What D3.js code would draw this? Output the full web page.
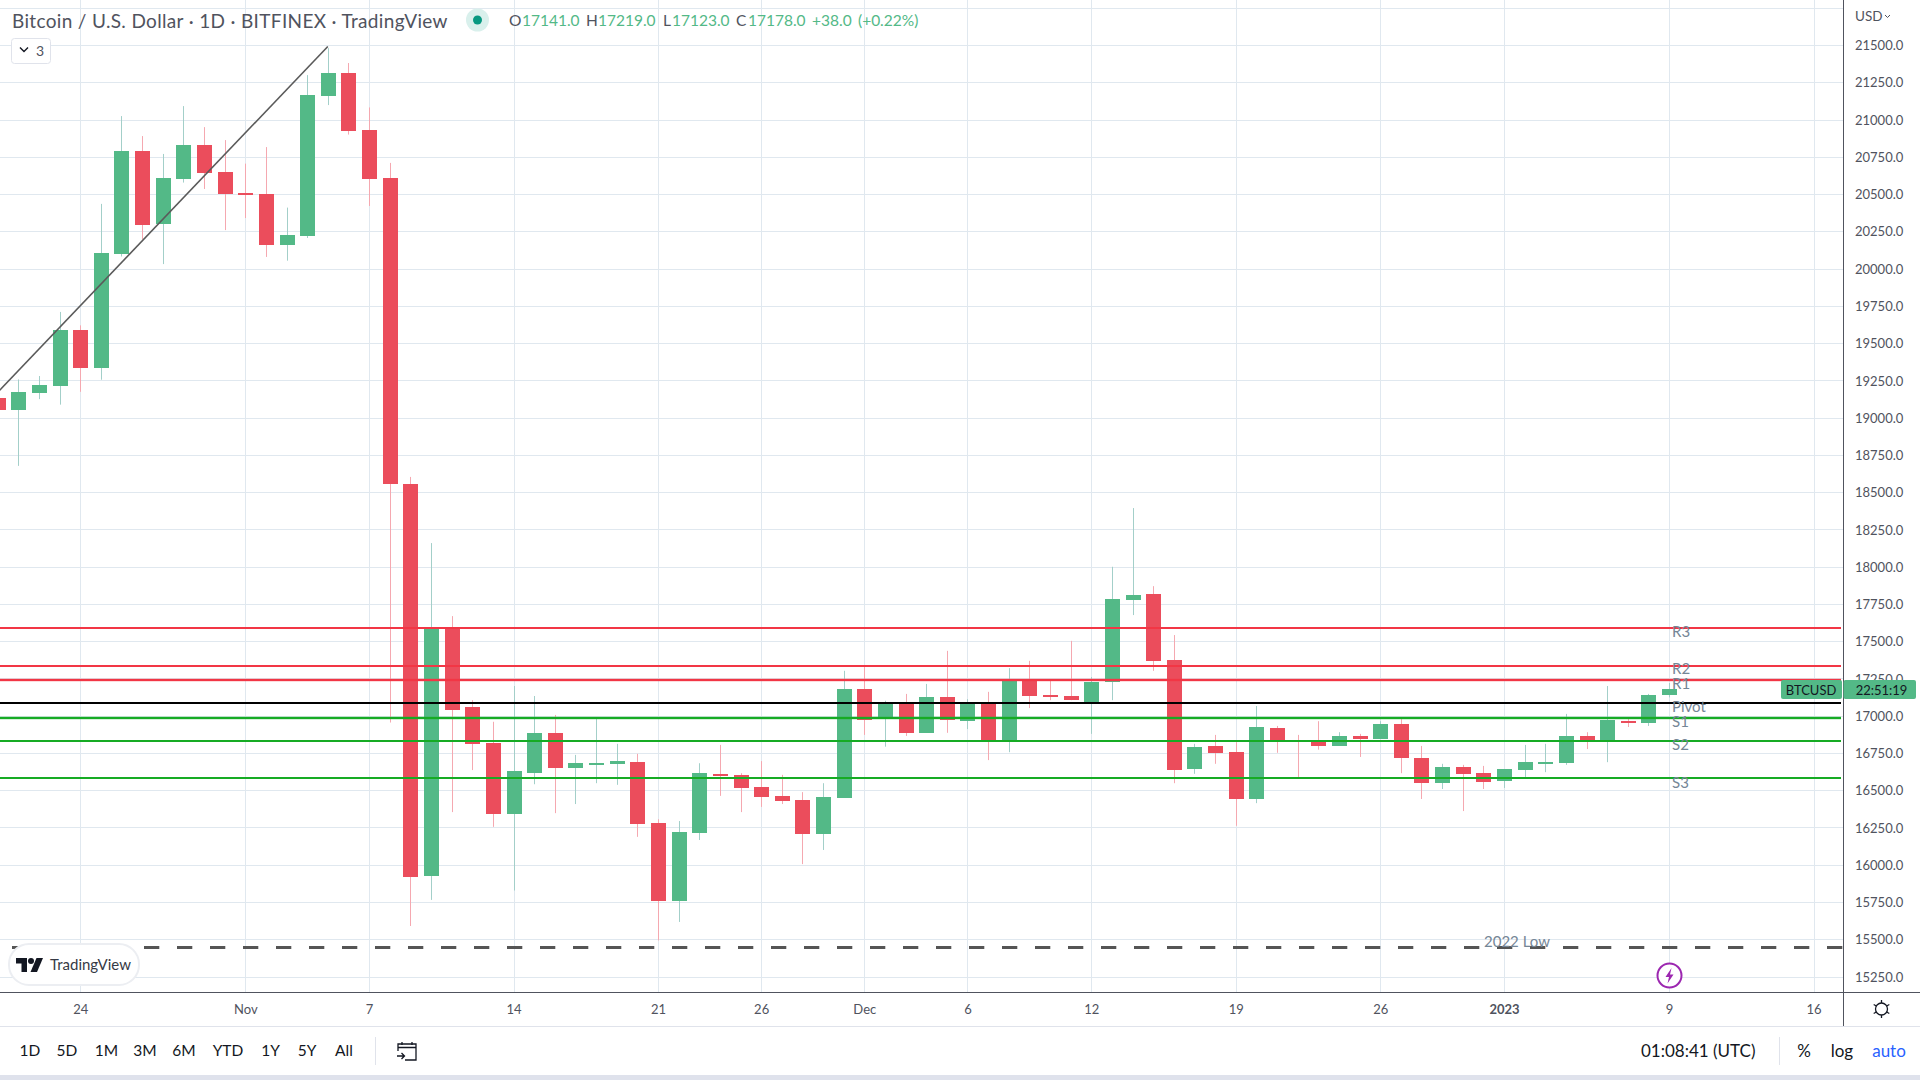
<!DOCTYPE html>
<html>
<head>
<meta charset="utf-8">
<script src="https://cdn.jsdelivr.net/npm/d3@7"></script>
<style>
  html, body { margin: 0; padding: 0; background: #fff; }
  svg { display: block; }
  text { font-family: Lato, "Open Sans", sans-serif; }
</style>
</head>
<body>
<svg id="chart" width="1920" height="1080"></svg>
<script>
// daily candles, Oct 20 2022 .. Jan 9 2023
const firstDay = "2022-10-20";
const opens = [
  19131,19050,19166,19212,19588,19332,20097,20790,20300,20601,20829,20649,
  20508,20501,20159,20219,21157,21312,20931,20607,18556,15924,17587,17058,16818,16340,16614,16885,16649,16677,
  16677,16688,16279,15757,16212,16610,16603,16522,16462,16434,16205,16448,
  17178,16984,17079,16885,17125,16963,17079,16829,17236,17139,17132,17093,17227,17777,17816,17375,16642,16797,
  16755,16441,16917,16836,16822,16797,16864,16843,16945,16716,16547,16656,16614,
  16561,16635,16681,16681,16864,16836,16963,16952,17141
];
const highs = [
  19170,19256,19279,19709,19619,20434,21023,20889,20769,21090,20949,20862,
  20704,20815,20409,21298,21479,21379,21081,20709,18602,18158,17668,17104,16959,17199,17132,17005,16737,16982,
  16811,16744,16305,16293,16681,16804,16614,16695,16603,16487,16547,17301,
  17333,17100,17146,17213,17435,17111,17160,17319,17368,17236,17502,17259,17999,18393,17869,17541,16811,16871,
  16822,17065,16931,16871,16963,16889,16878,16963,16977,16797,16677,16670,16663,
  16642,16804,16811,17012,16889,17199,16982,17146,17219
];
const lows = [
  19030,18676,19124,19087,19173,19254,20081,20196,20030,20577,20534,20258,
  20339,20078,20053,20205,21097,20899,20420,16954,15589,15764,16353,16635,16254,15827,16540,16346,16407,16547,
  16536,16187,15492,15616,16166,16462,16353,16388,16407,16004,16099,16448,
  16871,16792,16864,16885,16885,16910,16702,16755,17051,17104,17104,16878,17104,17675,17301,16547,16610,16677,
  16261,16413,16751,16589,16772,16797,16723,16843,16614,16441,16508,16360,16508,
  16515,16589,16621,16670,16776,16688,16924,16931,17123
];
const closes = [
  19050,19173,19219,19588,19332,20104,20790,20293,20607,20829,20642,20501,
  20494,20159,20226,21164,21312,20924,20601,18556,15919,17587,17037,16811,16340,16628,16885,16649,16681,16681,
  16695,16273,15757,16219,16614,16603,16515,16455,16427,16205,16455,17178,
  16970,17079,16885,17125,16970,17079,16836,17236,17132,17125,17104,17227,17784,17809,17368,16635,16790,16751,
  16441,16924,16836,16825,16797,16864,16843,16945,16716,16547,16656,16610,16554,
  16642,16688,16688,16864,16836,16970,16952,17139,17178
];

const pivotNames = ["R3", "R2", "R1", "Pivot", "S1", "S2", "S3"];
const pivotValues = [17589, 17333, 17241, 17086, 16986, 16829, 16582];
const pivotLabelValues = [17562, 17312, 17212, 17058, 16958, 16806, 16552];

const lowLevel = 15445;
const trendFrom = ["2022-10-20", 19170];
const trendTo = ["2022-11-05", 21490];

const priceTicks = d3.range(15250, 21751, 250);
const dateTicks = ["2022-10-24","2022-11-01","2022-11-07","2022-11-14","2022-11-21","2022-11-26","2022-12-01",
  "2022-12-06","2022-12-12","2022-12-19","2022-12-26","2023-01-01","2023-01-09","2023-01-16"];
const dateLabels = ["24","Nov","7","14","21","26","Dec","6","12","19","26","2023","9","16"];
const ranges = ["1D","5D","1M","3M","6M","YTD","1Y","5Y","All"];

const UP = "#53b987", DOWN = "#eb4d5c";
const UP_WICK = "#a3cfc9", DOWN_WICK = "#f5a8b0";
const GRID = "#e0e8ef", TEXT = "#50535e", LABEL = "#758696";
const parseDay = d3.utcParse("%Y-%m-%d");

const plotRight = 1843, plotBottom = 992, axisBottom = 1026;
const svg = d3.select("#chart");

const x = d3.scaleUtc().domain([parseDay("2022-10-24"), parseDay("2023-01-16")]).range([80.2, 1813.5]);
const y = d3.scaleLinear().domain([21500, 15250]).range([45, 976.5]);

const days = d3.utcDay.range(parseDay(firstDay), d3.utcDay.offset(parseDay(firstDay), opens.length));
const candles = days.map((d, i) => ({ date: d, o: opens[i], h: highs[i], l: lows[i], c: closes[i] }));

svg.append("clipPath").attr("id", "plot").append("rect")
  .attr("width", plotRight).attr("height", plotBottom);
const plot = svg.append("g").attr("clip-path", "url(#plot)");

/*** GRID ***/
plot.append("g").selectAll("line").data(priceTicks).join("line")
  .attr("x1", 0).attr("x2", plotRight)
  .attr("y1", d => Math.round(y(d)) + .5).attr("y2", d => Math.round(y(d)) + .5)
  .attr("stroke", GRID);
plot.append("g").selectAll("line").data(dateTicks).join("line")
  .attr("x1", d => Math.round(x(parseDay(d))) + .5).attr("x2", d => Math.round(x(parseDay(d))) + .5)
  .attr("y1", 0).attr("y2", plotBottom)
  .attr("stroke", GRID);

/*** CANDLES ***/
const bars = plot.append("g").selectAll("g").data(candles).join("g");
bars.append("line")
  .attr("x1", d => Math.round(x(d.date)) + .5).attr("x2", d => Math.round(x(d.date)) + .5)
  .attr("y1", d => y(d.h)).attr("y2", d => y(d.l))
  .attr("stroke", d => d.c >= d.o ? UP_WICK : DOWN_WICK);
bars.append("rect")
  .attr("x", d => Math.round(x(d.date)) - 7)
  .attr("width", 15)
  .attr("y", d => y(Math.max(d.o, d.c)))
  .attr("height", d => Math.max(2, Math.abs(y(d.o) - y(d.c))))
  .attr("fill", d => d.c >= d.o ? UP : DOWN)
  .attr("shape-rendering", "crispEdges");

/*** TREND LINE, PIVOTS, 2022 LOW ***/
plot.append("line")
  .attr("x1", x(parseDay(trendFrom[0]))).attr("y1", y(trendFrom[1]))
  .attr("x2", x(parseDay(trendTo[0]))).attr("y2", y(trendTo[1]))
  .attr("stroke", "#5a5a5a").attr("stroke-width", 1.6);

const pivotColor = n => n === "Pivot" ? "#000" : n[0] === "R" ? "#f23645" : "#16ab24";
// R1 and S1 carry a faint halo in the reference
plot.append("g").selectAll("line").data(["R1", "S1"]).join("line")
  .attr("x1", 0).attr("x2", plotRight - 2)
  .attr("y1", d => Math.round(y(pivotValues[pivotNames.indexOf(d)])))
  .attr("y2", d => Math.round(y(pivotValues[pivotNames.indexOf(d)])))
  .attr("stroke", pivotColor).attr("stroke-width", 4).attr("stroke-opacity", .18);
plot.append("g").selectAll("line.pivot").data(pivotNames).join("line")
  .attr("x1", 0).attr("x2", plotRight - 2)
  .attr("y1", (d, i) => Math.round(y(pivotValues[i])))
  .attr("y2", (d, i) => Math.round(y(pivotValues[i])))
  .attr("stroke", pivotColor).attr("stroke-width", 2);

plot.append("line")
  .attr("x1", 12).attr("x2", plotRight)
  .attr("y1", Math.round(y(lowLevel)) + .5).attr("y2", Math.round(y(lowLevel)) + .5)
  .attr("stroke", "#555").attr("stroke-width", 3).attr("stroke-dasharray", "15.3 17.7");

svg.append("g").selectAll("text").data(pivotNames).join("text")
  .attr("x", 1672).attr("y", (d, i) => y(pivotLabelValues[i]))
  .attr("dy", ".35em").attr("font-size", 15).attr("fill", LABEL)
  .text(d => d);
svg.append("text").attr("x", 1517).attr("y", 942).attr("dy", ".35em")
  .attr("text-anchor", "middle").attr("font-size", 15).attr("fill", LABEL).text("2022 Low");

/*** AXES ***/
const yAxis = svg.append("g").attr("transform", `translate(${plotRight},.5)`)
  .call(d3.axisRight(y).tickValues(priceTicks.slice(0, -1)).tickSize(0).tickPadding(12).tickFormat(d3.format(".1f")));
yAxis.select(".domain").remove();
yAxis.selectAll("text").attr("font-size", 13).attr("fill", TEXT).style("font-family", "Lato");

const xAxis = svg.append("g").attr("transform", `translate(0,${plotBottom})`)
  .call(d3.axisBottom(x).tickValues(dateTicks.map(parseDay)).tickSize(0).tickPadding(13)
    .tickFormat((d, i) => dateLabels[i]));
xAxis.select(".domain").remove();
xAxis.selectAll("text").attr("font-size", 13).attr("fill", TEXT).style("font-family", "Lato")
  .attr("font-weight", (d, i) => dateLabels[i] === "2023" ? 700 : 400);

svg.append("line").attr("x1", 0).attr("x2", 1920).attr("y1", plotBottom + .5).attr("y2", plotBottom + .5)
  .attr("stroke", "#50535e");
svg.append("line").attr("x1", plotRight + .5).attr("x2", plotRight + .5).attr("y1", 0).attr("y2", axisBottom)
  .attr("stroke", "#50535e");
svg.append("line").attr("x1", 0).attr("x2", 1920).attr("y1", axisBottom + .5).attr("y2", axisBottom + .5)
  .attr("stroke", "#e0e3eb");
svg.append("rect").attr("y", 1075).attr("width", 1920).attr("height", 5).attr("fill", "#dfe2ec");

/*** HEADER ***/
svg.append("text").attr("x", 12).attr("y", 21).attr("dy", ".35em").attr("font-size", 19)
  .attr("letter-spacing", .34).attr("fill", "#50535e")
  .text("Bitcoin / U.S. Dollar · 1D · BITFINEX · TradingView");
svg.append("circle").attr("cx", 477.5).attr("cy", 20).attr("r", 11.5).attr("fill", "#d9f0ec");
svg.append("circle").attr("cx", 477.5).attr("cy", 20).attr("r", 4.5).attr("fill", "#089981");

const legend = [
  [509, "O", TEXT], [522, "17141.0", UP], [586, "H", TEXT], [598, "17219.0", UP],
  [663, "L", TEXT], [672, "17123.0", UP], [736, "C", TEXT], [748, "17178.0", UP],
  [812, "+38.0", UP], [858, "(+0.22%)", UP]
];
svg.append("g").selectAll("text").data(legend).join("text")
  .attr("x", d => d[0]).attr("y", 21).attr("dy", ".35em").attr("font-size", 15.5)
  .attr("fill", d => d[2]).text(d => d[1]);

svg.append("rect").attr("x", 11.5).attr("y", 38.5).attr("width", 39).attr("height", 25).attr("rx", 3)
  .attr("fill", "#fff").attr("stroke", "#e0e3eb");
svg.append("path").attr("d", "M20 47.5l4 4 4-4").attr("fill", "none").attr("stroke", "#131722").attr("stroke-width", 1.4);
svg.append("text").attr("x", 36).attr("y", 51).attr("dy", ".35em").attr("font-size", 14).attr("fill", TEXT).text("3");

svg.append("text").attr("x", 1855).attr("y", 16).attr("dy", ".35em").attr("font-size", 13.5).attr("fill", TEXT).text("USD");
svg.append("path").attr("d", "M1885 15l2.5 2.5 2.5-2.5").attr("fill", "none").attr("stroke", TEXT);

/*** LAST PRICE TAGS ***/
svg.append("rect").attr("x", 1781).attr("y", 680).attr("width", 61).attr("height", 19).attr("rx", 2).attr("fill", UP);
svg.append("rect").attr("x", 1843.5).attr("y", 680).attr("width", 72.5).attr("height", 19).attr("rx", 2).attr("fill", UP);
svg.append("text").attr("x", 1811).attr("y", 690).attr("dy", ".35em").attr("text-anchor", "middle")
  .attr("font-size", 13).attr("fill", "#131722").text("BTCUSD");
svg.append("text").attr("x", 1881.5).attr("y", 690).attr("dy", ".35em").attr("text-anchor", "middle")
  .attr("font-size", 13).attr("fill", "#131722").text("22:51:19");

/*** LOGO AND ICONS ***/
svg.append("rect").attr("x", 9).attr("y", 944).attr("width", 130).attr("height", 41).attr("rx", 20)
  .attr("fill", "#fff").attr("stroke", "#eceef2").attr("stroke-width", 2);
const logo = svg.append("g").attr("transform", "translate(16,958)").attr("fill", "#131722");
logo.append("path").attr("d", "M0 0h11v14h-5.5v-8.5h-5.5z");
logo.append("circle").attr("cx", 15).attr("cy", 3).attr("r", 3);
logo.append("path").attr("d", "M27 0L21 14H14.5L20.5 0z");
svg.append("text").attr("x", 50).attr("y", 965).attr("dy", ".35em").attr("font-size", 15).attr("fill", "#363a45").text("TradingView");

svg.append("circle").attr("cx", 1669.5).attr("cy", 975.5).attr("r", 12).attr("fill", "#fff")
  .attr("stroke", "#9c27b0").attr("stroke-width", 2);
svg.append("path").attr("d", "M1671.5 968l-6 9h3.5l-1.5 6.5 6-9h-3.5z").attr("fill", "#9c27b0");

const gear = svg.append("g").attr("transform", "translate(1881.5,1009)").attr("fill", "none").attr("stroke", "#131722").attr("stroke-width", 1.3);
gear.append("circle").attr("r", 6);
gear.selectAll("line").data(d3.range(0, 360, 60)).join("line")
  .attr("y1", -6).attr("y2", -9).attr("transform", d => `rotate(${d})`);

/*** BOTTOM TOOLBAR ***/
const rangeX = [30, 67, 106.5, 145, 184, 228, 270.5, 307, 344];
svg.append("g").selectAll("text").data(ranges).join("text")
  .attr("x", (d, i) => rangeX[i]).attr("y", 1051).attr("dy", ".35em").attr("text-anchor", "middle")
  .attr("font-size", 15.5).attr("fill", "#131722").text(d => d);
svg.append("line").attr("x1", 375.5).attr("x2", 375.5).attr("y1", 1037).attr("y2", 1065).attr("stroke", "#e0e3eb");
svg.append("line").attr("x1", 1779.5).attr("x2", 1779.5).attr("y1", 1037).attr("y2", 1065).attr("stroke", "#e0e3eb");

const cal = svg.append("g").attr("transform", "translate(397,1042)").attr("fill", "none").attr("stroke", "#131722").attr("stroke-width", 1.3);
cal.append("path").attr("d", "M1 9V2h18v16H8");
cal.append("path").attr("d", "M1 5.5h18M5 0v3M15 0v3");
cal.append("path").attr("d", "M0 14h7M4.5 11l3 3-3 3");

svg.append("text").attr("x", 1641).attr("y", 1051).attr("dy", ".35em").attr("font-size", 17).attr("fill", "#131722").text("01:08:41 (UTC)");
svg.append("text").attr("x", 1804).attr("y", 1051).attr("dy", ".35em").attr("text-anchor", "middle").attr("font-size", 17).attr("fill", "#131722").text("%");
svg.append("text").attr("x", 1842).attr("y", 1051).attr("dy", ".35em").attr("text-anchor", "middle").attr("font-size", 17).attr("fill", "#131722").text("log");
svg.append("text").attr("x", 1889).attr("y", 1051).attr("dy", ".35em").attr("text-anchor", "middle").attr("font-size", 17).attr("fill", "#2962ff").text("auto");
</script>
</body>
</html>
